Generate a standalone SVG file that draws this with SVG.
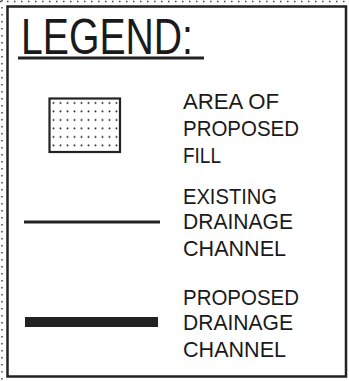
<svg xmlns="http://www.w3.org/2000/svg" width="349" height="381" viewBox="0 0 349 381">
  <style>
    .lbl { font-family: "Liberation Sans", Arial, sans-serif; font-size: 22px; fill: #1a1a1a; }
    .title { font-family: "Liberation Sans", Arial, sans-serif; font-size: 50px; fill: #1a1a1a; }
    .dotline { stroke: #444; stroke-width: 1.5; stroke-dasharray: 1.5 5.5; fill: none; }
  </style>
  <defs>
    <pattern id="dots" x="49" y="98" width="7" height="8.5" patternUnits="userSpaceOnUse">
      <circle cx="4.5" cy="5" r="1" fill="#222"/>
    </pattern>
  </defs>
  <rect width="349" height="381" fill="#ffffff"/>
  <g id="frame">
    <line class="dotline" x1="0" y1="1.5" x2="349" y2="1.5"/>
    <line class="dotline" x1="2" y1="0" x2="2" y2="381"/>
    <rect x="7.5" y="6.5" width="338.5" height="370" fill="none" stroke="#222" stroke-width="2.5"/>
  </g>
  <g id="title">
    <text class="title" x="21" y="54" textLength="172" lengthAdjust="spacingAndGlyphs">LEGEND:</text>
    <line x1="18" y1="58" x2="204" y2="58" stroke="#222" stroke-width="3"/>
  </g>
  <g id="fill-area">
    <rect x="49.5" y="98.5" width="70.5" height="53.5" fill="url(#dots)" stroke="#222" stroke-width="2.2"/>
    <text class="lbl" x="183" y="109" textLength="96" lengthAdjust="spacingAndGlyphs">AREA OF</text>
    <text class="lbl" x="183" y="136" textLength="116" lengthAdjust="spacingAndGlyphs">PROPOSED</text>
    <text class="lbl" x="183" y="163" textLength="38" lengthAdjust="spacingAndGlyphs">FILL</text>
  </g>
  <g id="existing-channel">
    <line x1="24" y1="222" x2="160" y2="222" stroke="#222" stroke-width="3"/>
    <text class="lbl" x="183" y="204" textLength="94" lengthAdjust="spacingAndGlyphs">EXISTING</text>
    <text class="lbl" x="183" y="229" textLength="110" lengthAdjust="spacingAndGlyphs">DRAINAGE</text>
    <text class="lbl" x="183" y="256" textLength="103" lengthAdjust="spacingAndGlyphs">CHANNEL</text>
  </g>
  <g id="proposed-channel">
    <rect x="25" y="317" width="133" height="10" fill="#222"/>
    <text class="lbl" x="183" y="305" textLength="116" lengthAdjust="spacingAndGlyphs">PROPOSED</text>
    <text class="lbl" x="183" y="330" textLength="110" lengthAdjust="spacingAndGlyphs">DRAINAGE</text>
    <text class="lbl" x="183" y="357" textLength="103" lengthAdjust="spacingAndGlyphs">CHANNEL</text>
  </g>
</svg>
